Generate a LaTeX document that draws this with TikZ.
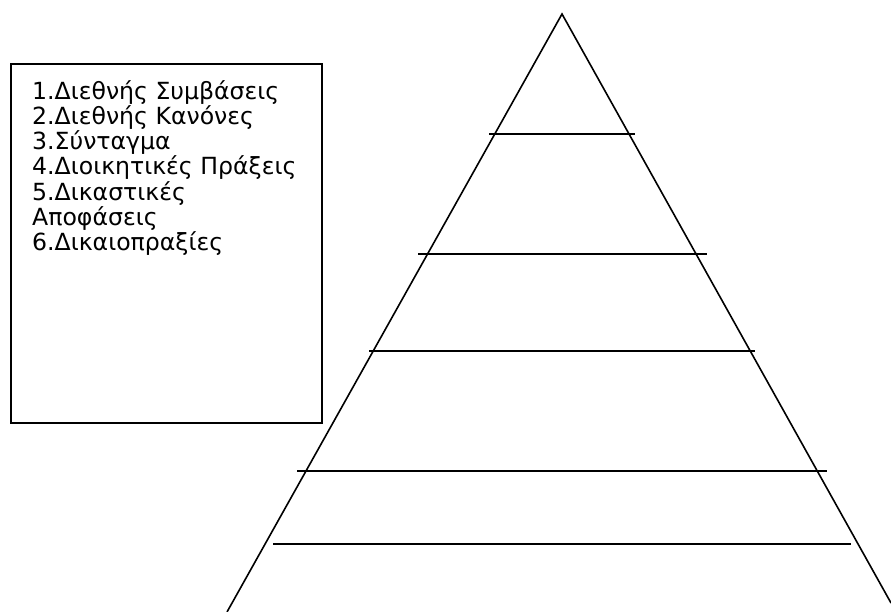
\documentclass[tikz,border=0pt]{standalone}
\usepackage{fontspec}
\setmainfont{DejaVu Sans}
\begin{document}
\begin{tikzpicture}[x=1pt,y=-1pt,
  edge/.style={line width=1.6pt,black},
  legendbox/.style={draw,line width=1.6pt,minimum width=311pt,minimum height=359pt,anchor=north west,inner sep=0pt},
  legendtext/.style={anchor=north west,align=left,inner sep=0pt,font=\fontsize{23.6}{25.3}\selectfont}]
\useasboundingbox (0,0) rectangle (891,612);
% legend box
\node[legendbox] (box) at (10,63) {};
\node[legendtext] (txt) at (32,80) {1.Διεθνής Συμβάσεις\\2.Διεθνής Κανόνες\\3.Σύνταγμα\\4.Διοικητικές Πράξεις\\5.Δικαστικές\\Αποφάσεις\\6.Δικαιοπραξίες};
% pyramid
\coordinate (apex) at (562,14);
\coordinate (bl) at (227,612);
\coordinate (br) at (891,603);
\draw[edge] (bl) -- (apex) -- (br);
\coordinate (l1a) at (489,134); \coordinate (l1b) at (635,134);
\coordinate (l2a) at (418,254); \coordinate (l2b) at (707,254);
\coordinate (l3a) at (369,351); \coordinate (l3b) at (755,351);
\coordinate (l4a) at (297,471); \coordinate (l4b) at (827,471);
\coordinate (l5a) at (273,544); \coordinate (l5b) at (851,544);
\draw[edge] (l1a) -- (l1b);
\draw[edge] (l2a) -- (l2b);
\draw[edge] (l3a) -- (l3b);
\draw[edge] (l4a) -- (l4b);
\draw[edge] (l5a) -- (l5b);
\end{tikzpicture}
\end{document}
